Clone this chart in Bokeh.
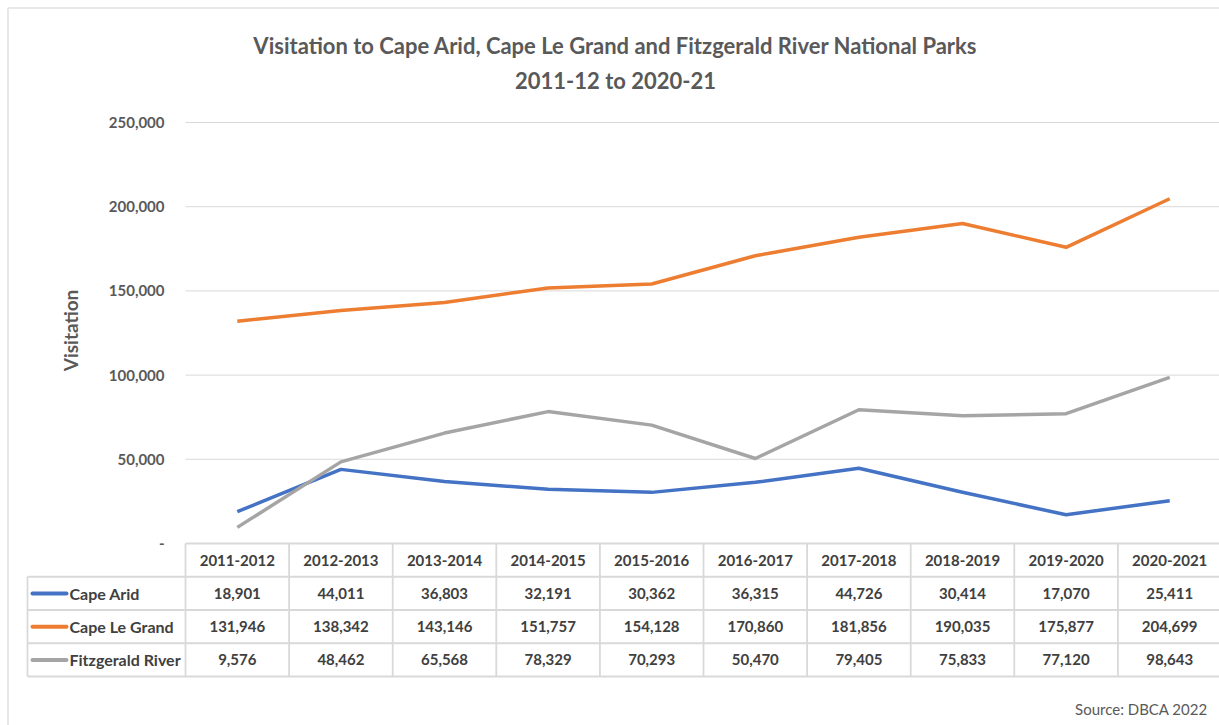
import math
from bokeh.plotting import figure
from bokeh.models import Range1d
from bokeh.core.properties import value
from bokeh.embed import file_html
from bokeh.resources import INLINE

# ---------------- data ----------------
years = ["2011-2012", "2012-2013", "2013-2014", "2014-2015", "2015-2016",
         "2016-2017", "2017-2018", "2018-2019", "2019-2020", "2020-2021"]
cape_arid = [18901, 44011, 36803, 32191, 30362, 36315, 44726, 30414, 17070, 25411]
cape_le_grand = [131946, 138342, 143146, 151757, 154128, 170860, 181856, 190035, 175877, 204699]
fitzgerald = [9576, 48462, 65568, 78329, 70293, 50470, 79405, 75833, 77120, 98643]
series_names = ["Cape Arid", "Cape Le Grand", "Fitzgerald River"]
series_colors = ["#4472C4", "#ED7D31", "#A5A5A5"]
y_ticks = [0, 50000, 100000, 150000, 200000, 250000]
y_tick_labels = ["-", "50,000", "100,000", "150,000", "200,000", "250,000"]

title1 = "Visitation to Cape Arid, Cape Le Grand and Fitzgerald River National Parks"
title2 = "2011-12 to 2020-21"
y_label = "Visitation"
source_note = "Source:  DBCA 2022"

# ---------------- style / layout constants ----------------
FONT = "Lato"
GREY = "#595959"
DARK = "#404040"
GRID = "#d9d9d9"
BORDER = "#e0e0e0"

W, H = 1219, 725          # figure size (px)
FRAME_L = 185             # left edge of the chart area
TABLE_L = 27              # left edge of the table legend column
CHART_TOP, CHART_BOT = 122, 543
COLW = 103.6
ROWH = 33.25
VMAX = 250000

series_values = [cape_arid, cape_le_grand, fitzgerald]
n = len(years)
xs = [i + 0.5 for i in range(n)]

def px_x(px):
    """pixel x -> column units"""
    return (px - FRAME_L) / COLW

x_range = Range1d(px_x(0), px_x(W))
per_px = VMAX / (CHART_BOT - CHART_TOP)
vis_range = Range1d(start=-(H - CHART_BOT) * per_px, end=CHART_BOT * per_px)

p = figure(width=W, height=H, output_backend="svg", toolbar_location=None,
           x_range=x_range, y_range=Range1d(H, 0),
           min_border_left=0, min_border_right=0, min_border_top=0,
           min_border_bottom=0, title=None)
p.extra_y_ranges = {"vis": vis_range}
p.outline_line_color = None
p.axis.visible = False
p.grid.visible = False

# outer chart-area border (top and left edges visible)
p.segment([px_x(7.5), px_x(7.5)], [7.5, 7.5], [px_x(W), px_x(7.5)], [7.5, H],
          line_color=BORDER, line_width=1.5)

# titles
p.text([px_x(615)] * 2, [45, 80], text=[title1, title2], text_align="center",
       text_baseline="middle", text_font=value(FONT), text_font_size="22px",
       text_font_style="bold", text_color=GREY)

# gridlines + tick labels on the value scale
p.segment([0] * len(y_ticks), y_ticks, [n] * len(y_ticks), y_ticks,
          y_range_name="vis", line_color=GRID, line_width=1)
p.text([px_x(164)] * len(y_ticks), y_ticks, text=y_tick_labels,
       y_range_name="vis", text_align="right", text_baseline="middle",
       text_font=value(FONT), text_font_size="15px", text_font_style="bold",
       text_color=GREY)
p.text([px_x(70)], [330], text=[y_label],
       angle=math.pi / 2, text_align="center", text_baseline="middle",
       text_font=value(FONT), text_font_size="19px", text_font_style="bold",
       text_color=GREY)

# series lines
for vals, col in zip(series_values, series_colors):
    p.line(xs, vals, y_range_name="vis", line_color=col, line_width=3.5,
           line_join="round")

# ---------------- data table ----------------
nrows = len(series_names)
row_top = CHART_BOT
row_c = [row_top + ROWH * (k + 0.5) for k in range(nrows + 1)]   # header + rows
row_edges = [row_top + ROWH * k for k in range(nrows + 2)]
x_tab = px_x(TABLE_L)

h_x0 = [0] + [x_tab] * (nrows + 1)
h_x1 = [n] * (nrows + 2)
p.segment(h_x0, row_edges, h_x1, row_edges, line_color=GRID, line_width=1.8)
v_x = [x_tab] + list(range(n + 1))
v_y0 = [row_edges[1]] + [row_edges[0]] * (n + 1)
v_y1 = [row_edges[-1]] * (n + 2)
p.segment(v_x, v_y0, v_x, v_y1, line_color=GRID, line_width=1.8)

p.text(xs, [row_c[0]] * n, text=years, text_align="center",
       text_baseline="middle", text_font=value(FONT), text_font_size="15px",
       text_font_style="bold", text_color=DARK)

cx, cy, ct = [], [], []
for r, vals in enumerate(series_values):
    for i, v in enumerate(vals):
        cx.append(xs[i]); cy.append(row_c[r + 1]); ct.append(f"{v:,}")
p.text(cx, cy, text=ct, text_align="center", text_baseline="middle",
       text_font=value(FONT), text_font_size="15px", text_font_style="bold",
       text_color=DARK)

ry = row_c[1:]
p.segment([px_x(32)] * nrows, ry, [px_x(66)] * nrows, ry,
          line_color=series_colors, line_width=4, line_cap="round")
p.text([px_x(69)] * nrows, ry, text=series_names, text_align="left",
       text_baseline="middle", text_font=value(FONT), text_font_size="16px",
       text_font_style="bold", text_color=DARK)

# source note
p.text([px_x(1211)], [708], text=[source_note], text_align="right",
       text_baseline="middle", text_font=value(FONT), text_font_size="15px",
       text_color=GREY)

open("out.html", "w").write(file_html(p, INLINE))
